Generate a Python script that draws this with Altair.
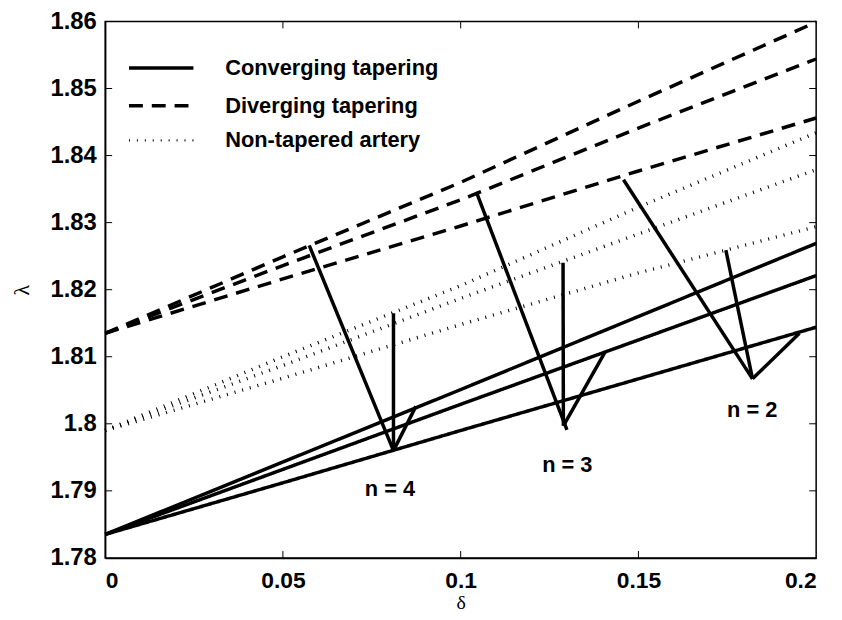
import altair as alt
import pandas as pd

# ---- data ----
delta = [0.0, 0.05, 0.10, 0.15, 0.20]
conv_n2 = [1.7835, 1.7912, 1.7990, 1.8067, 1.8144]
conv_n3 = [1.7835, 1.7932, 1.8029, 1.8125, 1.8221]
conv_n4 = [1.7835, 1.7943, 1.8051, 1.8160, 1.8269]
div_n2 = [1.8135, 1.8216, 1.8295, 1.8377, 1.8456]
div_n3 = [1.8135, 1.8236, 1.8334, 1.8441, 1.8544]
div_n4 = [1.8135, 1.8249, 1.8360, 1.8481, 1.8599]
non_n2 = [1.7990, 1.8068, 1.8148, 1.8225, 1.8294]
non_n3 = [1.7990, 1.8087, 1.8187, 1.8283, 1.8379]
non_n4 = [1.7990, 1.8100, 1.8206, 1.8323, 1.8434]

styles = ["Converging tapering", "Diverging tapering", "Non-tapered artery"]

# pointer lines from the "n = ..." labels to the curves
ptr_x1 = [0.0574, 0.0811, 0.0811, 0.1044, 0.1288, 0.1289, 0.1458, 0.1746, 0.1821]
ptr_y1 = [1.8266, 1.8165, 1.7960, 1.8346, 1.8240, 1.7997, 1.8364, 1.8259, 1.8067]
ptr_x2 = [0.0811, 0.0811, 0.0874, 0.1299, 0.1289, 0.1406, 0.1821, 0.1821, 0.1953]
ptr_y2 = [1.7960, 1.7960, 1.8026, 1.7991, 1.7997, 1.8107, 1.8067, 1.8067, 1.8135]

lab_text = ["n = 4", "n = 3", "n = 2"]
lab_x = [0.0801, 0.1300, 0.1820]
lab_y = [1.7902, 1.7938, 1.8021]

x_ticks = [0, 0.05, 0.1, 0.15, 0.2]
y_ticks = [1.78, 1.79, 1.80, 1.81, 1.82, 1.83, 1.84, 1.85, 1.86]

# ---- tables ----
rows = []
series = [
    (styles[0], "2", conv_n2), (styles[0], "3", conv_n3), (styles[0], "4", conv_n4),
    (styles[1], "2", div_n2), (styles[1], "3", div_n3), (styles[1], "4", div_n4),
    (styles[2], "2", non_n2), (styles[2], "3", non_n3), (styles[2], "4", non_n4),
]
for style, n, ys in series:
    for x, y in zip(delta, ys):
        rows.append({"x": x, "y": y, "style": style, "key": style + n})
curves_df = pd.DataFrame(rows)
ptr_df = pd.DataFrame({"x": ptr_x1, "y": ptr_y1, "x2": ptr_x2, "y2": ptr_y2})
lab_df = pd.DataFrame({"text": lab_text, "x": lab_x, "y": lab_y})
xt_df = pd.DataFrame({"v": x_ticks[1:-1]})
yt_df = pd.DataFrame({"v": y_ticks[1:-1]})

W, H = 717, 541
TL = 7
DASHES = [[1, 0], [14, 9], [1, 7]]
WIDTHS = [3.5, 3.5, 2.2]

xs = alt.Scale(domain=[0, 0.2], nice=False, zero=False)
ys_ = alt.Scale(domain=[1.78, 1.86], nice=False, zero=False)

x_axis = alt.Axis(values=x_ticks, format="~g", title="δ", labelPadding=12,
                  labelFontSize=23,
                  titleX=W / 2, titleY=51, titleBaseline="alphabetic",
                  titleFontSize=20)
y_axis = alt.Axis(values=y_ticks, format="~g", title="λ", labelPadding=9,
                  titleX=-84, titleY=H / 2, titleBaseline="middle", titleAngle=270)

curves = alt.Chart(curves_df).mark_line(color="black", strokeCap="butt").encode(
    x=alt.X("x:Q", scale=xs, axis=x_axis),
    y=alt.Y("y:Q", scale=ys_, axis=y_axis),
    strokeDash=alt.StrokeDash("style:N",
                              scale=alt.Scale(domain=styles, range=DASHES),
                              legend=None),
    strokeWidth=alt.StrokeWidth("style:N",
                                scale=alt.Scale(domain=styles, range=WIDTHS),
                                legend=None),
    detail="key:N",
)

pointers = alt.Chart(ptr_df).mark_rule(color="black", strokeWidth=3.5).encode(
    x=alt.X("x:Q", scale=xs), y=alt.Y("y:Q", scale=ys_), x2="x2:Q", y2="y2:Q"
)

labels = alt.Chart(lab_df).mark_text(
    font="Liberation Sans", fontWeight="bold", fontSize=22, color="black",
    align="center", baseline="middle"
).encode(x=alt.X("x:Q", scale=xs), y=alt.Y("y:Q", scale=ys_), text="text:N")

# legend (top-left, inside the plot, no frame)
leg_rows_y = [47, 85, 120]
leg_layers = []
for i, s in enumerate(styles):
    one = pd.DataFrame({"label": [s]})
    leg_layers.append(
        alt.Chart(one).mark_rule(color="black", strokeWidth=WIDTHS[i],
                                 strokeDash=DASHES[i], strokeCap="butt").encode(
            x=alt.value(24), x2=alt.value(89), y=alt.value(leg_rows_y[i]))
    )
    leg_layers.append(
        alt.Chart(one).mark_text(font="Liberation Sans", fontWeight="bold",
                                 fontSize=22, color="black", align="left",
                                 baseline="middle").encode(
            x=alt.value(121), y=alt.value(leg_rows_y[i]), text="label:N")
    )

tick_bottom = alt.Chart(xt_df).mark_rule(color="black", strokeWidth=1).encode(
    x=alt.X("v:Q", scale=xs), y=alt.value(H), y2=alt.value(H - TL))
tick_top = alt.Chart(xt_df).mark_rule(color="black", strokeWidth=1).encode(
    x=alt.X("v:Q", scale=xs), y=alt.value(0), y2=alt.value(TL))
tick_left = alt.Chart(yt_df).mark_rule(color="black", strokeWidth=1).encode(
    y=alt.Y("v:Q", scale=ys_), x=alt.value(0), x2=alt.value(TL))
tick_right = alt.Chart(yt_df).mark_rule(color="black", strokeWidth=1).encode(
    y=alt.Y("v:Q", scale=ys_), x=alt.value(W), x2=alt.value(W - TL))

chart = alt.layer(
    curves, pointers, labels, *leg_layers,
    tick_bottom, tick_top, tick_left, tick_right
).properties(
    width=W, height=H,
    autosize="none",
    padding={"left": 98, "top": 11, "right": 18, "bottom": 52},
    background="white",
).configure_view(
    stroke="black", strokeWidth=1.5
).configure_axis(
    labelFont="Liberation Sans", labelFontWeight="bold", labelFontSize=24,
    labelColor="black", domainColor="black", domainWidth=1.5, grid=False,
    ticks=False, titleFont="Liberation Serif", titleFontWeight="normal",
    titleFontSize=22, titleColor="black",
)

chart.save("out.html", embed_options={"renderer": "svg", "actions": False})
